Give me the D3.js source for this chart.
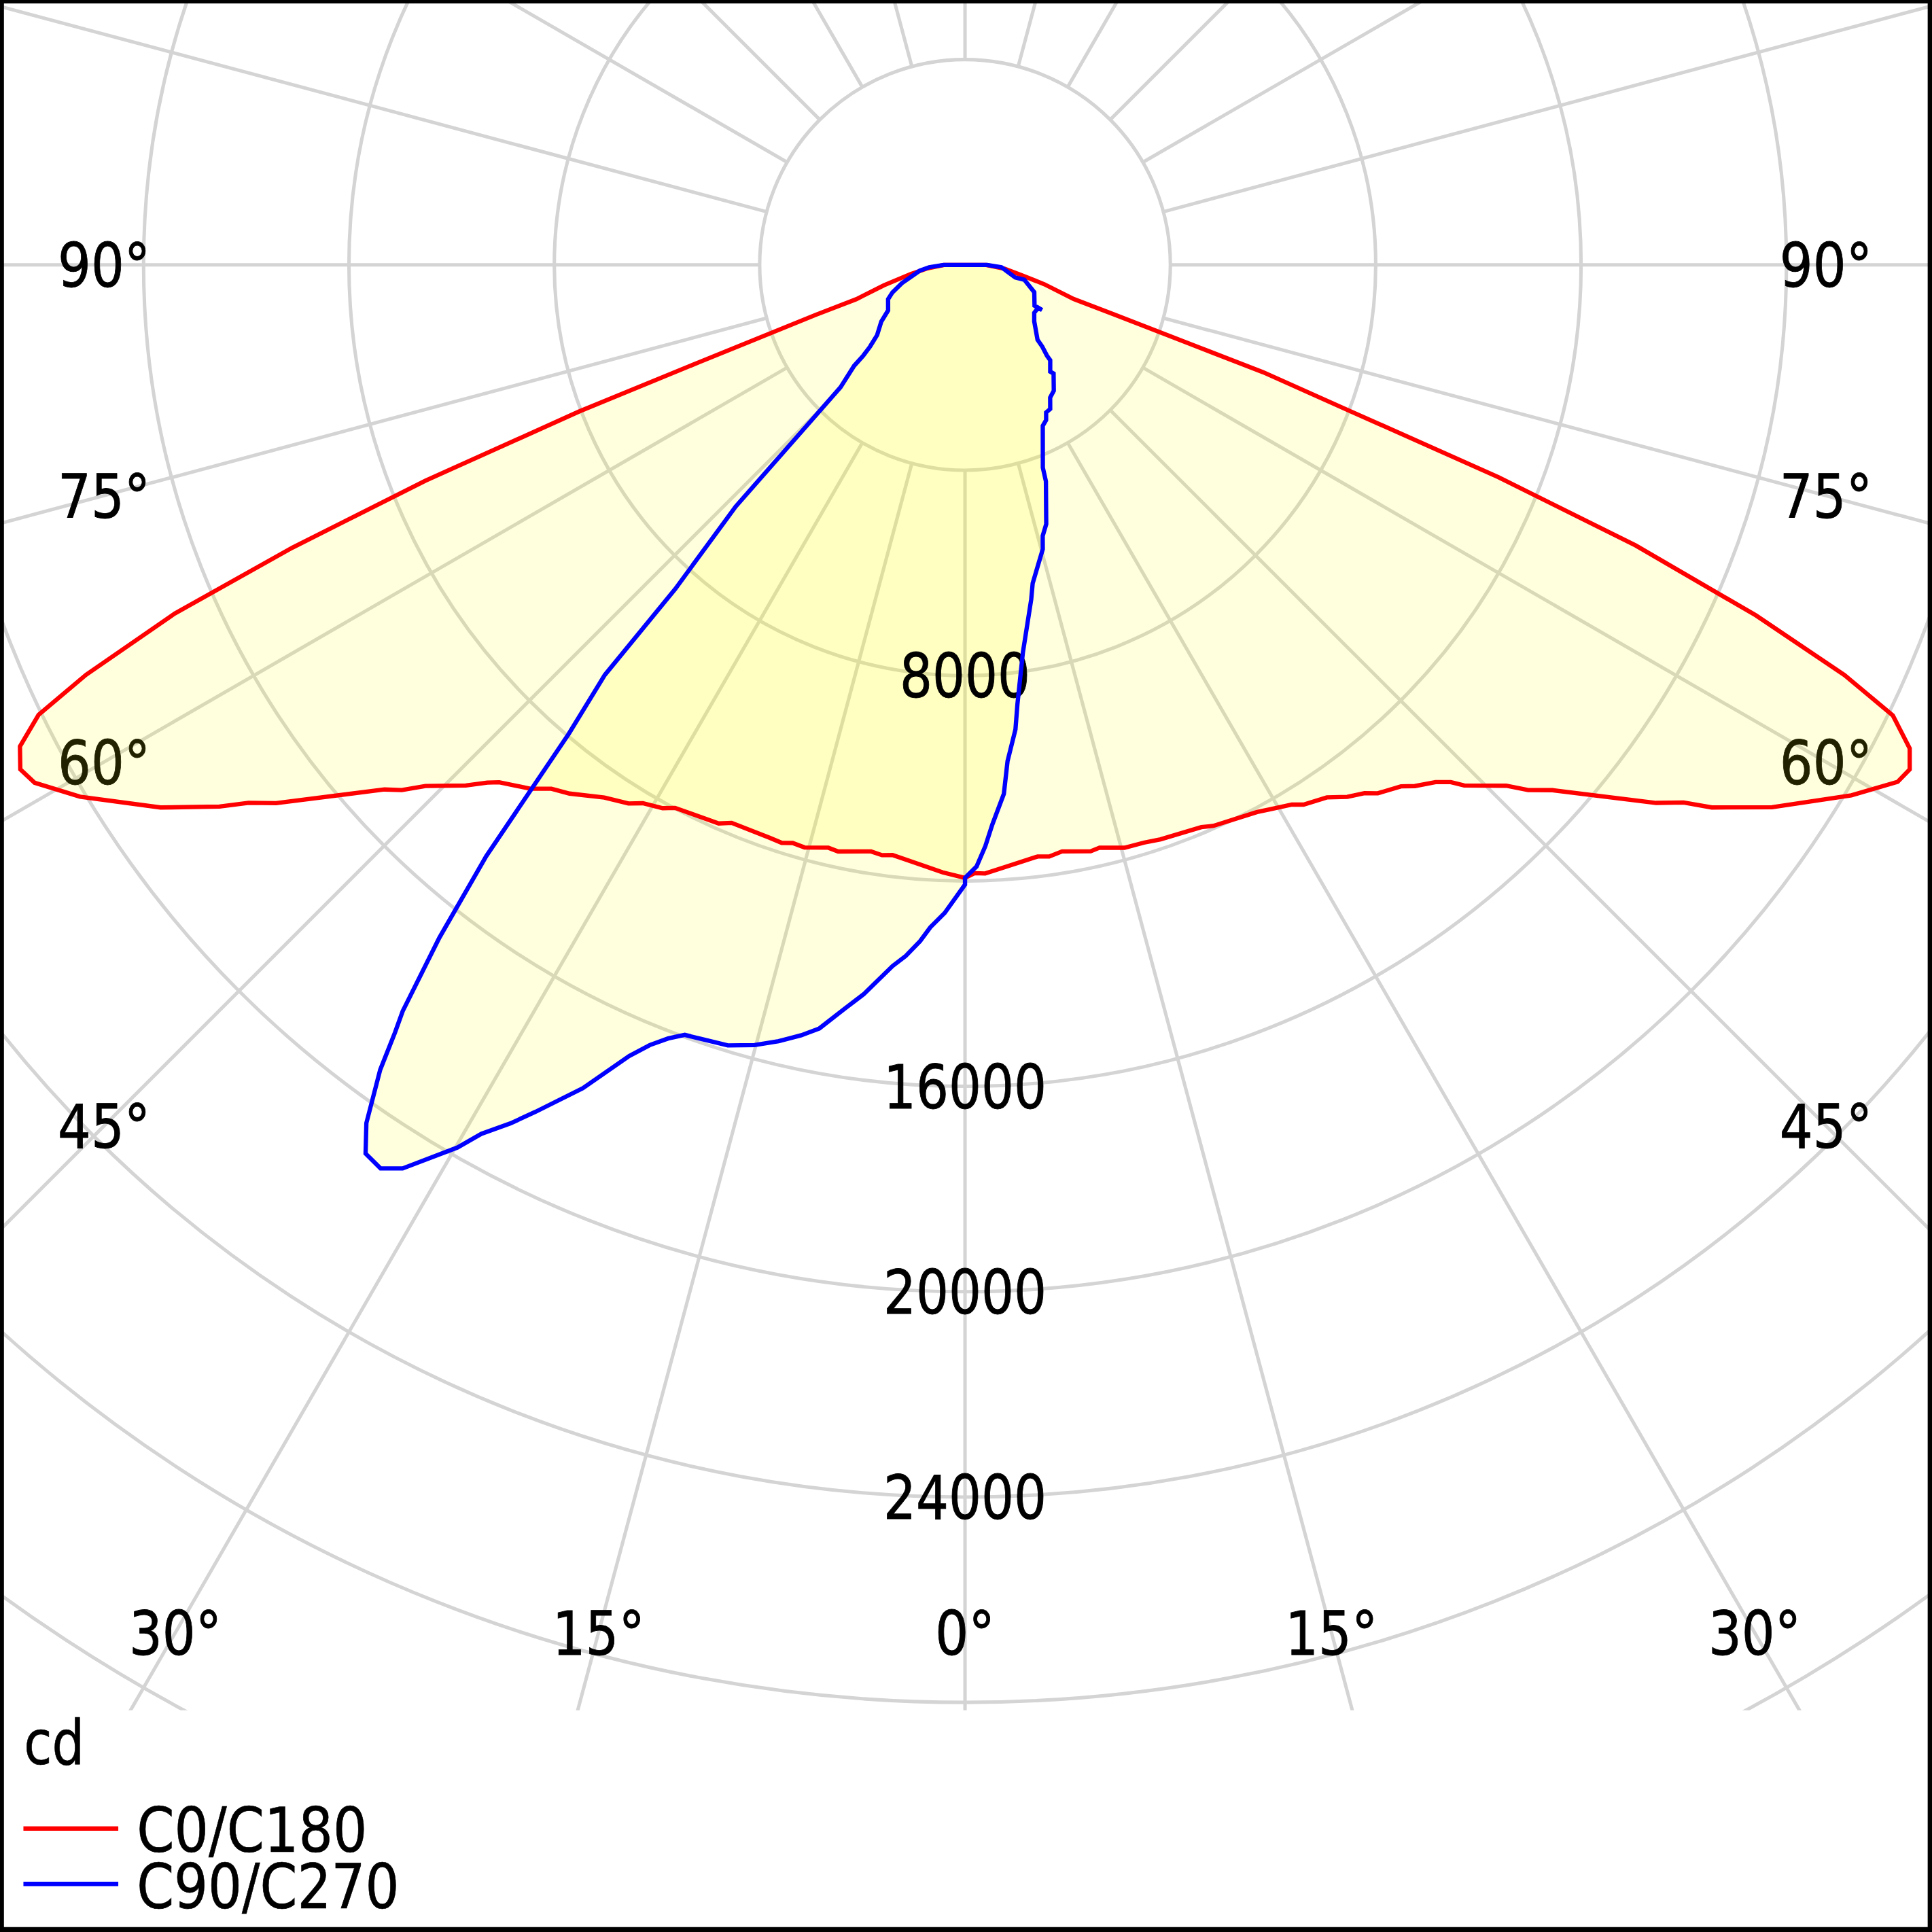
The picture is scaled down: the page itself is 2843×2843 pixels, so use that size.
<!DOCTYPE html>
<html>
<head>
<meta charset="utf-8">
<script src="https://cdn.jsdelivr.net/npm/d3@7/dist/d3.min.js"></script>
<style>
html, body { margin: 0; padding: 0; background: #ffffff; }
svg { display: block; }
</style>
</head>
<body>
<svg id="chart" width="2843" height="2843" viewBox="0 0 1568 1568"></svg>
<script>
// ---------------- data (gamma in degrees, luminous intensity in cd) ----------------
const c0Gamma = [0, 0.9, 1.9, 7.0, 8.1, 9.4, 12.1, 13.0, 15.3, 17.2, 18.8, 22.8, 23.9, 28.1, 29.2, 31.2, 32.1, 34.2, 35.7, 37.1, 38.0, 39.9, 40.8, 42.3, 43.2, 43.8, 46.1, 47.0, 48.2, 52.1, 53.2, 54.0, 56.1, 59.1, 61.0, 61.9, 62.9, 64.1, 65.0, 66.1, 67.3, 68.3, 69.2, 70.2, 71.6, 72.6, 76.3, 79.7, 84.6, 90];
const c0Cd = [11940, 11850, 11860, 11610, 11640, 11580, 11680, 11650, 11770, 11780, 11820, 11880, 11950, 12080, 12150, 12290, 12410, 12540, 12760, 12900, 13060, 13240, 13410, 13620, 13820, 14050, 14630, 15000, 15350, 17060, 17480, 17980, 18940, 20120, 20770, 20860, 20670, 20090, 18900, 16850, 14160, 11180, 8060, 6170, 3070, 2220, 1590, 1120, 770, 410];

const c180Gamma = [0, 2.1, 7.0, 8.0, 9.1, 12.2, 13.2, 15.4, 16.6, 17.6, 18.8, 22.7, 23.8, 28.1, 29.1, 30.9, 32.0, 34.1, 36.8, 38.3, 39.7, 42.0, 42.7, 43.8, 46.0, 47.0, 47.9, 52.0, 53.1, 54.0, 56.0, 59.0, 60.9, 61.9, 63.0, 64.1, 65.0, 66.2, 67.2, 68.2, 69.2, 69.9, 71.5, 72.5, 75.9, 80.5, 84.5, 90];
const c180Cd = [11940, 11840, 11580, 11610, 11570, 11690, 11660, 11770, 11750, 11810, 11790, 11780, 11890, 11990, 12110, 12220, 12370, 12530, 12860, 13000, 13260, 13560, 13720, 14050, 14610, 15000, 15240, 17030, 17450, 17950, 18900, 20110, 20740, 20860, 20660, 20060, 18890, 16820, 14210, 11320, 8040, 5520, 3060, 2220, 1630, 1070, 750, 410];

const c90Gamma = [0, 1.1, 2.0, 2.8, 4.2, 4.9, 6.2, 6.8, 8.5, 11.2, 12.0, 15.3, 16.0, 17.4, 20.5, 21.0, 25.8, 27.6, 28.8, 30.6, 32.7, 35.2, 39.2, 38.6, 41.8, 42.1, 43.4, 44.1, 50.8, 55.3, 59.7, 59.7, 59.6, 68.5, 76.0, 75.9, 82.0, 86.3, 90];
const c90Cd = [11940, 11720, 11330, 10910, 10330, 9700, 9100, 8620, 7630, 6640, 6340, 5740, 5490, 5290, 4500, 4230, 3480, 3410, 3280, 3260, 3070, 3000, 2730, 2660, 2490, 2380, 2190, 2030, 1740, 1640, 1650, 1740, 1570, 1450, 1190, 1010, 810, 710, 430];

const c270Gamma = [0, 1.8, 3.0, 3.8, 4.9, 5.9, 7.9, 9.2, 10.8, 12.0, 13.5, 15.1, 16.9, 20.0, 21.0, 22.0, 23.0, 24.9, 26.9, 27.9, 29.1, 29.9, 31.9, 32.9, 34.0, 34.9, 36.0, 36.6, 37.0, 38.0, 39.0, 40.2, 41.3, 41.8, 43.5, 45.5, 47.7, 48.3, 49.3, 51.4, 55.9, 59.4, 66.0, 69.3, 73.9, 78.7, 82.7, 86.3, 90];
const c270Cd = [12070, 12630, 12920, 13200, 13510, 13730, 14340, 14680, 15140, 15340, 15550, 15740, 15890, 15960, 16140, 16390, 16740, 17680, 18500, 18920, 19370, 19830, 20730, 20960, 20880, 20380, 19380, 18620, 18200, 16630, 14820, 11960, 10630, 8470, 6490, 3400, 2920, 2650, 2440, 2190, 1970, 1740, 1640, 1510, 1280, 1030, 890, 700, 420];

const ringValues = [4000, 8000, 12000, 16000, 20000, 24000, 28000, 32000, 36000, 40000];
const ringLabels = [8000, 16000, 20000, 24000];
const spokeAngles = d3.range(0, 360, 15);
const angleLabels = [90, 75, 60, 45, 30, 15, 0];
const unitLabel = "cd";
const seriesNames = ["C0/C180", "C90/C270"];
const seriesColors = ["#ff0000", "#0000ff"];

// ---------------- drawing ----------------
const svg = d3.select("#chart");
const cx = 783.2, cy = 215;
const r = d3.scaleLinear().domain([0, 24000]).range([0, 1000]);
const rad = d => d * Math.PI / 180;
const font = '"DejaVu Sans", "Liberation Sans", Arial, sans-serif';
const gridColor = "#d4d4d4";

// width of numeric labels (Tahoma-like proportions)
function numWidth(s, em) {
  let w = 0;
  for (const ch of s) w += (ch === "°") ? 0.457 : 0.546;
  return w * em;
}

svg.append("rect").attr("x", 0).attr("y", 0).attr("width", 1568).attr("height", 1568).attr("fill", "#ffffff");

const defs = svg.append("defs");
defs.append("clipPath").attr("id", "plotClip")
  .append("rect").attr("x", 0).attr("y", 0).attr("width", 1568).attr("height", 1388);

// grid
const grid = svg.append("g").attr("clip-path", "url(#plotClip)")
  .append("g").attr("transform", `translate(${cx},${cy})`);
grid.selectAll("circle").data(ringValues).join("circle")
  .attr("r", d => r(d))
  .attr("fill", "none").attr("stroke", gridColor).attr("stroke-width", 2.8);
grid.selectAll("line").data(spokeAngles).join("line")
  .attr("x1", a => r(4000) * Math.sin(rad(a)))
  .attr("y1", a => r(4000) * Math.cos(rad(a)))
  .attr("x2", a => r(60000) * Math.sin(rad(a)))
  .attr("y2", a => r(60000) * Math.cos(rad(a)))
  .attr("stroke", gridColor).attr("stroke-width", 2.8);

// angle labels (placed where the ray meets an inset frame)
const labelFs = 49;
function labelPos(g, side) {
  const s = Math.sin(rad(g)), c = Math.cos(rad(g));
  const tx = s > 1e-9 ? 698.75 / s : Infinity;
  const ty = c > 1e-9 ? 1110 / c : Infinity;
  const t = Math.min(tx, ty);
  return [cx + side * t * s, cy + t * c];
}
const angleItems = [];
angleLabels.forEach(g => {
  if (g === 0) angleItems.push({ g, side: 0 });
  else { angleItems.push({ g, side: -1 }); angleItems.push({ g, side: 1 }); }
});
svg.append("g").selectAll("text").data(angleItems).join("text")
  .attr("x", d => labelPos(d.g, d.side)[0])
  .attr("y", d => labelPos(d.g, d.side)[1] + 17.8)
  .attr("text-anchor", "middle")
  .attr("font-family", font).attr("font-size", labelFs)
  .attr("textLength", d => numWidth(d.g + "°", 48.5))
  .attr("lengthAdjust", "spacingAndGlyphs")
  .attr("fill", "#000").attr("stroke", "#000").attr("stroke-width", 0.5)
  .text(d => d.g + "°");

// curves
const zip = (gs, vs) => gs.map((g, i) => ({ g, v: vs[i] }));
const pairs = [
  { color: seriesColors[0], right: zip(c0Gamma, c0Cd), left: zip(c180Gamma, c180Cd) },
  { color: seriesColors[1], right: zip(c90Gamma, c90Cd), left: zip(c270Gamma, c270Cd) }
];
pairs.forEach(p => {
  p.pts = p.right.slice().reverse().map(d => ({ a: Math.PI - rad(d.g), v: d.v }))
    .concat(p.left.map(d => ({ a: Math.PI + rad(d.g), v: d.v })));
});
const radial = d3.lineRadial().angle(d => d.a).radius(d => r(d.v)).curve(d3.curveLinearClosed);

const curveG = svg.append("g").attr("transform", `translate(${cx},${cy})`);
curveG.selectAll("path.fill").data(pairs).join("path").attr("class", "fill")
  .attr("d", d => radial(d.pts))
  .attr("fill", "#ffff00").attr("fill-opacity", 0.13).attr("stroke", "none");

// ring value labels
svg.append("g").selectAll("text").data(ringLabels).join("text")
  .attr("x", cx)
  .attr("y", d => cy + r(d) + 17.8)
  .attr("text-anchor", "middle")
  .attr("font-family", font).attr("font-size", labelFs)
  .attr("textLength", d => numWidth(String(d), 48.5))
  .attr("lengthAdjust", "spacingAndGlyphs")
  .attr("fill", "#000").attr("stroke", "#000").attr("stroke-width", 0.5)
  .text(d => d);

const lineG = svg.append("g").attr("transform", `translate(${cx},${cy})`);
lineG.selectAll("path.line").data(pairs).join("path").attr("class", "line")
  .attr("d", d => radial(d.pts))
  .attr("fill", "none").attr("stroke", d => d.color).attr("stroke-width", 3.5)
  .attr("stroke-linejoin", "miter");

// legend
const legFs = 50;
svg.append("text").attr("x", 19.5).attr("y", 1431.5)
  .attr("font-family", font).attr("font-size", legFs)
  .attr("textLength", 49).attr("lengthAdjust", "spacingAndGlyphs")
  .attr("fill", "#000").attr("stroke", "#000").attr("stroke-width", 0.4)
  .text(unitLabel);
const legRows = [
  { name: seriesNames[0], color: seriesColors[0], y: 1484, base: 1503, w: 187 },
  { name: seriesNames[1], color: seriesColors[1], y: 1529, base: 1548.5, w: 213 }
];
const leg = svg.append("g");
leg.selectAll("line").data(legRows).join("line")
  .attr("x1", 19).attr("x2", 96).attr("y1", d => d.y).attr("y2", d => d.y)
  .attr("stroke", d => d.color).attr("stroke-width", 3.6);
leg.selectAll("text").data(legRows).join("text")
  .attr("x", 111).attr("y", d => d.base)
  .attr("font-family", font).attr("font-size", legFs)
  .attr("textLength", d => d.w).attr("lengthAdjust", "spacingAndGlyphs")
  .attr("fill", "#000").attr("stroke", "#000").attr("stroke-width", 0.4)
  .text(d => d.name);

// border
const bd = svg.append("g").attr("fill", "#000");
bd.append("rect").attr("x", 0).attr("y", 0).attr("width", 1568).attr("height", 2.8);
bd.append("rect").attr("x", 0).attr("y", 0).attr("width", 3.2).attr("height", 1568);
bd.append("rect").attr("x", 1564.5).attr("y", 0).attr("width", 3.5).attr("height", 1568);
bd.append("rect").attr("x", 0).attr("y", 1564).attr("width", 1568).attr("height", 4);
</script>
</body>
</html>
